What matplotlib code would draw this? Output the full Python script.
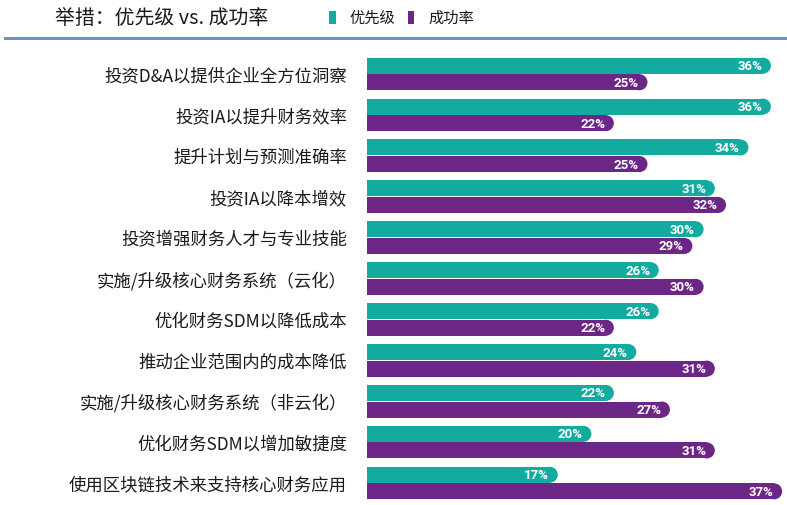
#!/usr/bin/env python3
"""Initiatives: priority vs. success rate, horizontal paired bars."""

import matplotlib
matplotlib.use("Agg")
import matplotlib.pyplot as plt
from matplotlib.patches import Rectangle, Ellipse

C_PRIO = "#13aaa0"
C_SUCC = "#6c2786"
C_LINE = "#6f95bd"
C_TEXT = "#1a1a1a"

plt.rcParams["font.family"] = ["Noto Sans CJK SC", "DejaVu Sans"]

categories = [
    "投资D&A以提供企业全方位洞察",
    "投资IA以提升财务效率",
    "提升计划与预测准确率",
    "投资IA以降本增效",
    "投资增强财务人才与专业技能",
    "实施/升级核心财务系统（云化）",
    "优化财务SDM以降低成本",
    "推动企业范围内的成本降低",
    "实施/升级核心财务系统（非云化）",
    "优化财务SDM以增加敏捷度",
    "使用区块链技术来支持核心财务应用",
]
priority = [36, 36, 34, 31, 30, 26, 26, 24, 22, 20, 17]
success = [25, 22, 25, 32, 29, 30, 22, 31, 27, 31, 37]

W, H, DPI = 787, 506, 100
fig = plt.figure(figsize=(W / DPI, H / DPI), dpi=DPI)

# axes placement in pixels
ax_left, ax_right = 367, 787
ax_top, ax_bot = 54.5, 504.5
px_per_unit = 11.22
xmax = (ax_right - ax_left) / px_per_unit
ax = fig.add_axes([ax_left / W, (H - ax_bot) / H,
                   (ax_right - ax_left) / W, (ax_bot - ax_top) / H])
ax.set_xlim(0, xmax)
ax.set_ylim(len(categories) - 0.5, -0.5)
ax.axis("off")

px_per_row = (ax_bot - ax_top) / len(categories)
bar_h = 16 / px_per_row
offset = 8.3 / px_per_row
cap_w = 16 / px_per_unit  # ellipse width in data units for a round cap
pad = 8.5 / px_per_unit


def rounded_bar(y, v, color):
    r = cap_w / 2
    ax.add_patch(Rectangle((0, y - bar_h / 2), v - r, bar_h,
                           facecolor=color, edgecolor="none", zorder=2))
    ax.add_patch(Ellipse((v - r, y), cap_w, bar_h,
                         facecolor=color, edgecolor="none", zorder=2))
    ax.text(v - pad, y, f"{v}%", ha="right", va="center", color="white",
            fontsize=9.5, fontweight="bold", family=["Roboto", "DejaVu Sans"],
            zorder=3)


for i, (p, s) in enumerate(zip(priority, success)):
    rounded_bar(i - offset, p, C_PRIO)
    rounded_bar(i + offset, s, C_SUCC)
    ax.text(-20 / px_per_unit, i + 0.03, categories[i], ha="right", va="center",
            fontsize=12.5, color=C_TEXT, clip_on=False)

# header
fig.text(55 / W, 1 - 18 / H, "举措：优先级 vs. 成功率", ha="left", va="center",
         fontsize=14.3, color=C_TEXT)
fig.patches.append(Rectangle((329 / W, 1 - 25 / H), 7 / W, 13 / H,
                             transform=fig.transFigure, facecolor=C_PRIO,
                             edgecolor="none"))
fig.text(349 / W, 1 - 18 / H, "优先级", ha="left", va="center",
         fontsize=11, color=C_TEXT)
fig.patches.append(Rectangle((408 / W, 1 - 25 / H), 6 / W, 13 / H,
                             transform=fig.transFigure, facecolor=C_SUCC,
                             edgecolor="none"))
fig.text(428 / W, 1 - 18 / H, "成功率", ha="left", va="center",
         fontsize=11, color=C_TEXT)
fig.lines.append(plt.Line2D([5 / W, 1], [1 - 38.5 / H, 1 - 38.5 / H],
                            transform=fig.transFigure, color=C_LINE,
                            linewidth=2.2))

fig.savefig("out.png", dpi=DPI)
